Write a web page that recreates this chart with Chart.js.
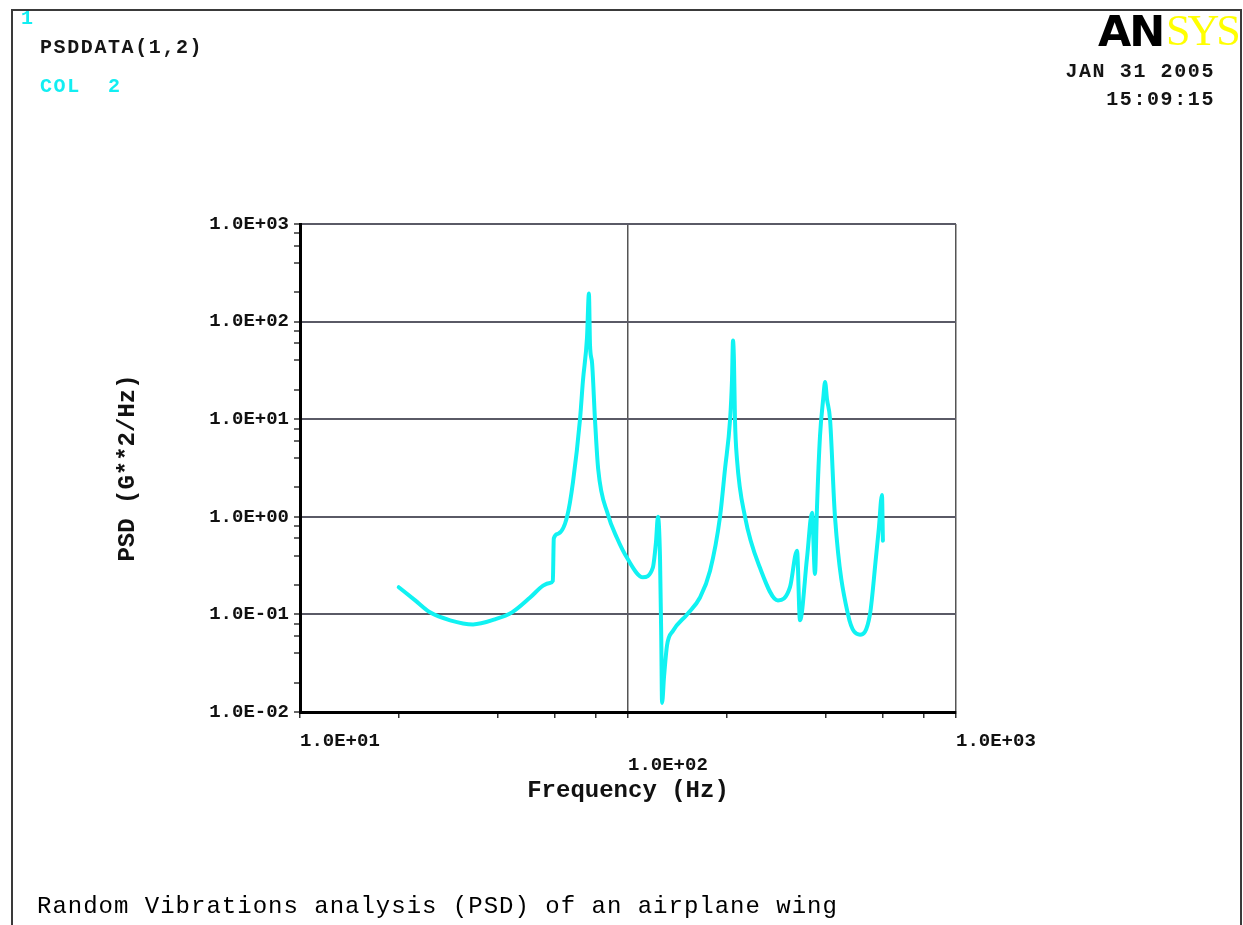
<!DOCTYPE html>
<html>
<head>
<meta charset="utf-8">
<script src="https://cdn.jsdelivr.net/npm/chart.js@4.4.1/dist/chart.umd.min.js"></script>
<style>
  body { margin: 0; background: #fff; }
  #wrap { position: relative; width: 1243px; height: 925px; overflow: hidden; background: #fff; }
  #frame { position: absolute; left: 11px; top: 9px; width: 1227px; height: 940px; border: 2px solid #3a3a3a; border-bottom: none; }
  canvas { position: absolute; left: 0; top: 0; }
  .txt { position: absolute; font-family: "Liberation Mono", monospace; font-weight: bold; white-space: pre; line-height: 1; font-size: 20px; letter-spacing: 1.6px; color: #151515; }
  .cyan { color: #12eef2; }
</style>
</head>
<body>
<div id="wrap">
  <canvas id="psdChart" width="1243" height="925"></canvas>
  <div id="frame"></div>
  <div class="txt cyan" style="left:21px; top:9px; font-size:20px; letter-spacing:0">1</div>
  <div class="txt" style="left:40px; top:38px">PSDDATA(1,2)</div>
  <div class="txt cyan" style="left:40px; top:77px">COL  2</div>
  <div class="txt" style="right:28px; top:62px">JAN 31 2005</div>
  <div class="txt" style="right:28px; top:90px">15:09:15</div>
  <div style="position:absolute; left:1098px; top:10px; font-family:'DejaVu Sans'; font-weight:900; font-size:43px; line-height:1; letter-spacing:-2px; color:#000">AN</div>
  <div style="position:absolute; left:1166px; top:9px; font-family:'Liberation Serif'; font-size:44px; line-height:1; letter-spacing:-3px; color:#ffff00">SYS</div>
  <div class="txt" style="left:37px; top:895px; font-size:24px; font-weight:normal; letter-spacing:1px; color:#000">Random Vibrations analysis (PSD) of an airplane wing</div>
</div>
<script>
// PSD curve (Hz, G^2/Hz)
var freqHz = [20, 22.4, 24.9, 28.7, 33.7, 39.3, 44.3, 50.3, 55.1, 57.8,
              59.0, 59.4, 61.2, 65.2, 68.0, 71.4, 72.9, 75.0, 76.0, 76.6,
              77.7, 79.3, 81.1, 86.9, 92.5, 99.3, 111, 119, 121.7, 123.4,
              125.2, 126.3, 127, 128.8, 131.5, 137.2, 151.4, 165.8, 177.9, 190.7,
              197.6, 204.8, 207.5, 209, 210.4, 211.9, 214.9, 227.4, 252.6, 286.6,
              311.8, 327.6, 334.4, 351.4, 364, 371.6, 376.8, 384.9, 393.5, 398.9,
              404.3, 413, 427.6, 468.5, 509.8, 546.6, 570, 582, 594.7, 598.6];
var psdValues = [0.19, 0.14, 0.105, 0.087, 0.079, 0.089, 0.105, 0.149, 0.197, 0.21,
                 0.22, 0.6, 0.67, 1.0, 2.3, 10, 25, 69, 194, 57,
                 37.7, 10, 3.1, 1.05, 0.61, 0.38, 0.24, 0.30, 0.55, 1.0,
                 0.38, 0.057, 0.0124, 0.023, 0.048, 0.068, 0.1, 0.149, 0.28, 0.99,
                 3.1, 10, 25, 64, 40, 10, 3.9, 1.0, 0.30, 0.139,
                 0.19, 0.45, 0.087, 0.38, 1.1, 0.26, 1.23, 6.7, 15.9, 24,
                 16, 10, 1.0, 0.1, 0.062, 0.1, 0.38, 0.77, 1.67, 0.57];

var xMajor = [10, 100, 1000];
var xTickLabels = ['1.0E+01', '1.0E+02', '1.0E+03'];
var yMajor = [0.01, 0.1, 1, 10, 100, 1000];
var yTickLabels = ['1.0E-02', '1.0E-01', '1.0E+00', '1.0E+01', '1.0E+02', '1.0E+03'];
var minorSteps = [2, 4, 6, 8];

function decadeTicks(majors) {
  var out = [];
  majors.forEach(function(m, i) {
    out.push(m);
    if (i < majors.length - 1) minorSteps.forEach(function(s) { out.push(m * s); });
  });
  return out;
}

var monoBold = { family: 'Liberation Mono', weight: 'bold', size: 19, lineHeight: 24 / 19 };
var titleFont = { family: 'Liberation Mono', weight: 'bold', size: 24 };

var ctx = document.getElementById('psdChart').getContext('2d');
var psdChart = new Chart(ctx, {
  type: 'line',
  data: {
    datasets: [{
      data: freqHz.map(function(f, i) { return { x: f, y: psdValues[i] }; }),
      borderColor: '#10f2f2',
      borderWidth: 4,
      borderJoinStyle: 'round',
      borderCapStyle: 'round',
      cubicInterpolationMode: 'monotone',
      pointRadius: 0,
      fill: false
    }]
  },
  options: {
    responsive: false,
    animation: false,
    layout: { padding: { left: 0, top: 224, right: 287, bottom: 0 } },
    plugins: {
      legend: { display: false },
      tooltip: { enabled: false }
    },
    scales: {
      x: {
        type: 'logarithmic',
        min: 10,
        max: 1000,
        afterFit: function(s) { s.height = 213; },
        afterBuildTicks: function(s) {
          s.ticks = decadeTicks(xMajor).map(function(v) { return { value: v }; });
        },
        border: { color: '#000', width: 3 },
        grid: {
          color: function(c) { return xMajor.indexOf(c.tick.value) >= 0 ? '#555' : 'rgba(0,0,0,0)'; },
          lineWidth: 1.5,
          tickColor: '#333',
          tickLength: 6,
          tickWidth: 1.5
        },
        ticks: {
          autoSkip: false,
          minRotation: 0,
          maxRotation: 0,
          align: 'start',
          padding: 11,
          color: '#111',
          font: monoBold,
          callback: function(value) {
            var i = xMajor.indexOf(value);
            if (i < 0) return '';
            return i === 1 ? ['', xTickLabels[i]] : xTickLabels[i];
          }
        },
        title: {
          display: true,
          text: 'Frequency (Hz)',
          color: '#111',
          font: titleFont,
          padding: { top: 0, bottom: 120 }
        }
      },
      y: {
        type: 'logarithmic',
        min: 0.01,
        max: 1000,
        afterFit: function(s) { s.width = 300; },
        afterBuildTicks: function(s) {
          s.ticks = decadeTicks(yMajor).map(function(v) { return { value: v }; });
        },
        border: { color: '#000', width: 3 },
        grid: {
          color: function(c) { return yMajor.indexOf(c.tick.value) >= 0 ? '#5a5a66' : 'rgba(0,0,0,0)'; },
          lineWidth: 2,
          tickColor: '#333',
          tickLength: 6,
          tickWidth: 1.5
        },
        ticks: {
          autoSkip: false,
          padding: 5,
          color: '#111',
          font: monoBold,
          callback: function(value) {
            var i = yMajor.indexOf(value);
            return i < 0 ? '' : yTickLabels[i];
          }
        },
        title: {
          display: true,
          text: 'PSD (G**2/Hz)',
          color: '#111',
          font: titleFont,
          padding: { top: 114, bottom: 0 }
        }
      }
    }
  }
});
</script>
</body>
</html>
